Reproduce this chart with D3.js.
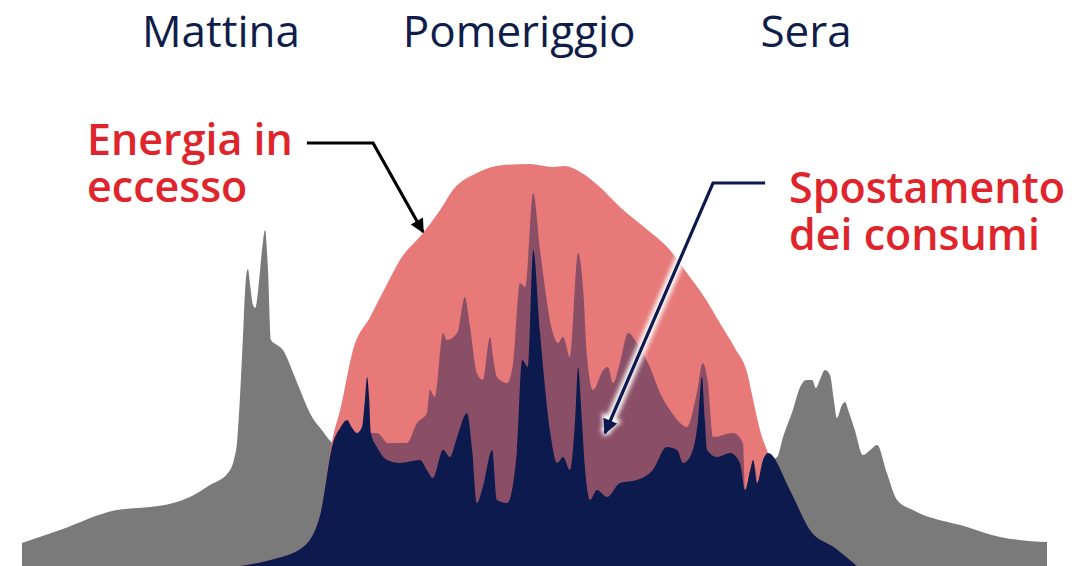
<!DOCTYPE html>
<html>
<head>
<meta charset="utf-8">
<script src="https://cdn.jsdelivr.net/npm/d3@7"></script>
<style>
  html, body { margin: 0; padding: 0; background: #fff; }
  svg { display: block; }
  text { font-family: "Open Sans", "Noto Sans", sans-serif; }
</style>
</head>
<body>
<svg id="chart" width="1081" height="566"></svg>
<script>
// hours of the day, power in kW
var consumption = [
  [0.00,0.23],[0.89,0.36],[2.22,0.56],[3.00,0.59],[3.54,0.63],[3.93,0.69],[4.40,0.81],
  [4.82,0.93],[4.96,1.06],[5.04,1.26],[5.10,1.66],[5.17,2.26],[5.24,2.86],[5.29,2.97],
  [5.34,2.81],[5.41,2.61],[5.46,2.58],[5.53,2.76],[5.62,3.16],[5.69,3.36],[5.76,2.96],
  [5.83,2.26],[5.97,2.21],[6.11,2.16],[6.35,1.93],[6.51,1.76],[6.74,1.53],[7.02,1.36],
  [7.28,1.23],[8.85,1.03],[11.97,1.50],[13.53,0.86],[15.92,1.20],[17.47,1.05],
  [17.68,1.09],[17.82,1.29],[18.05,1.56],[18.22,1.79],[18.36,1.86],[18.50,1.86],
  [18.59,1.78],[18.68,1.86],[18.80,1.96],[18.92,1.91],[19.01,1.66],[19.08,1.48],
  [19.20,1.61],[19.27,1.64],[19.36,1.54],[19.50,1.36],[19.69,1.11],[19.86,1.16],
  [20.02,1.21],[20.25,0.93],[20.49,0.66],[20.86,0.56],[22.13,0.39],[22.90,0.29],
  [24.00,0.24]
];

var production = [
  [5.10,0.00],[5.81,0.06],[6.58,0.19],[6.98,0.51],[7.28,1.29],[7.45,1.56],[7.75,2.16],
  [8.15,2.49],[8.50,2.78],[8.85,3.06],[9.39,3.33],[9.79,3.56],[10.09,3.76],[10.65,3.93],
  [11.26,4.01],[11.89,4.02],[12.43,3.99],[12.71,4.00],[13.07,3.94],[13.53,3.79],
  [14.00,3.59],[14.59,3.38],[15.17,3.16],[15.57,2.93],[15.99,2.68],[16.34,2.43],
  [16.69,2.18],[16.98,1.93],[17.12,1.66],[17.28,1.36],[17.47,1.13],[17.98,0.76],
  [18.45,0.36],[19.04,0.18],[19.55,0.00]
];

var shiftedLoad = [
  [8.15,1.33],[8.31,1.33],[8.43,1.29],[8.55,1.23],[9.01,1.23],[9.25,1.43],[9.48,1.53],
  [9.55,1.76],[9.67,1.69],[9.86,2.33],[9.95,2.26],[10.19,2.33],[10.37,2.69],[10.49,2.39],
  [10.65,1.93],[10.79,1.86],[10.96,2.29],[11.03,2.09],[11.12,1.89],[11.36,1.83],
  [11.50,2.03],[11.66,2.83],[11.78,2.79],[11.97,3.73],[12.13,3.16],[12.43,2.33],
  [12.55,2.23],[12.67,2.29],[12.83,2.09],[13.02,3.13],[13.14,2.76],[13.23,2.09],
  [13.37,1.76],[13.61,1.96],[13.72,1.99],[13.84,1.83],[14.00,2.03],[14.19,2.33],
  [14.40,2.23],[14.70,1.99],[14.94,1.73],[15.17,1.56],[15.41,1.43],[15.57,1.39],
  [15.80,1.73],[15.94,2.03],[16.06,1.83],[16.18,1.29],[16.65,1.33],[16.88,1.23],
  [16.93,0.76],[17.09,0.76],[17.12,1.03],[17.20,0.90]
];

var selfConsumption = [
  [5.10,0.00],[5.81,0.06],[6.58,0.19],[6.98,0.51],[7.28,1.23],[7.45,1.38],[7.61,1.46],
  [7.73,1.38],[7.84,1.33],[7.96,1.39],[8.03,1.66],[8.08,1.89],[8.13,1.66],[8.17,1.33],
  [8.31,1.19],[8.55,1.06],[8.85,1.03],[9.32,1.06],[9.48,0.96],[9.62,0.88],[9.86,1.16],
  [10.02,1.09],[10.19,1.29],[10.42,1.53],[10.54,1.16],[10.65,0.63],[10.79,0.79],
  [11.01,1.16],[11.12,0.66],[11.36,0.63],[11.59,1.16],[11.71,2.06],[11.85,1.99],
  [11.97,3.16],[12.13,2.33],[12.36,1.36],[12.53,1.03],[12.67,1.09],[12.83,0.96],
  [12.95,1.46],[13.02,1.99],[13.11,1.46],[13.18,0.99],[13.30,0.66],[13.46,0.76],
  [13.70,0.69],[14.00,0.83],[14.40,0.86],[14.77,0.96],[15.10,1.19],[15.34,1.16],
  [15.48,1.03],[15.64,1.09],[15.83,1.46],[15.92,1.89],[15.99,1.46],[16.04,1.16],
  [16.27,1.09],[16.58,1.13],[16.81,1.03],[16.93,0.76],[17.05,0.96],[17.12,1.06],
  [17.21,0.83],[17.35,1.06],[17.47,1.13],[17.98,0.76],[18.45,0.36],[19.04,0.18],
  [19.55,0.00]
];

var periods = [["Mattina", 4.66], ["Pomeriggio", 11.64], ["Sera", 18.36]];
var excessArrow = [[6.67,4.23],[8.22,4.23],[9.39,3.34]];
var shiftArrow = [[17.40,3.83],[16.18,3.83],[13.65,1.33]];

var svg = d3.select("#chart");
var x = d3.scaleLinear().domain([0, 24]).range([22, 1047]);
var y = d3.scaleLinear().domain([0, 4]).range([566, 166]);

var area = d3.area()
  .x(function(d) { return x(d[0]); })
  .y0(y(0))
  .y1(function(d) { return y(d[1]); })
  .curve(d3.curveMonotoneX);

var layers = [
  [consumption, "#7a7a7a"],
  [production, "#e77979"],
  [shiftedLoad, "#8a4f66"],
  [selfConsumption, "#0c1a4e"]
];
layers.forEach(function(l) {
  svg.append("path").datum(l[0]).attr("d", area).attr("fill", l[1]);
});

// arrows
var defs = svg.append("defs");
defs.append("marker").attr("id", "headBlack")
  .attr("viewBox", "0 0 10 10").attr("refX", 9).attr("refY", 5)
  .attr("markerUnits", "userSpaceOnUse")
  .attr("markerWidth", 16).attr("markerHeight", 14).attr("orient", "auto")
  .append("path").attr("d", "M0,0L10,5L0,10z").attr("fill", "#000");
defs.append("marker").attr("id", "headNavy")
  .attr("viewBox", "0 0 10 10").attr("refX", 9).attr("refY", 5)
  .attr("markerUnits", "userSpaceOnUse")
  .attr("markerWidth", 17).attr("markerHeight", 15).attr("orient", "auto")
  .append("path").attr("d", "M0,0L10,5L0,10z").attr("fill", "#0c1a4e");
defs.append("marker").attr("id", "headHalo")
  .attr("viewBox", "0 0 10 10").attr("refX", 8).attr("refY", 5)
  .attr("markerUnits", "userSpaceOnUse")
  .attr("markerWidth", 24).attr("markerHeight", 22).attr("orient", "auto")
  .append("path").attr("d", "M0,0L10,5L0,10z").attr("fill", "#fff");
defs.append("filter").attr("id", "blur")
  .append("feGaussianBlur").attr("stdDeviation", 2.2);

var line = d3.line()
  .x(function(d) { return x(d[0]); })
  .y(function(d) { return y(d[1]); });

svg.append("path").datum(excessArrow).attr("d", line)
  .attr("fill", "none").attr("stroke", "#000").attr("stroke-width", 3.2)
  .attr("marker-end", "url(#headBlack)");

svg.append("path").datum(shiftArrow.slice(1)).attr("d", line)
  .attr("fill", "none").attr("stroke", "#fff").attr("stroke-width", 10)
  .attr("stroke-opacity", 0.95).attr("filter", "url(#blur)")
  .attr("marker-end", "url(#headHalo)");
svg.append("path").datum(shiftArrow).attr("d", line)
  .attr("fill", "none").attr("stroke", "#0c1a4e").attr("stroke-width", 3.2)
  .attr("marker-end", "url(#headNavy)");

// period labels
svg.selectAll("text.period").data(periods).enter().append("text")
  .attr("class", "period")
  .attr("x", function(d) { return x(d[1]); })
  .attr("y", 47)
  .attr("text-anchor", "middle")
  .attr("font-size", 44)
  .attr("fill", "#0f1d4a")
  .text(function(d) { return d[0]; });

// red callouts, one text per line to keep the tight leading
function label(lines, lx, ly) {
  lines.forEach(function(s, i) {
    svg.append("text")
      .attr("x", lx).attr("y", ly + i * 47)
      .attr("font-size", 43).attr("font-weight", 600)
      .attr("fill", "#e0242c")
      .text(s);
  });
}
label(["Energia in", "eccesso"], 87, 155);
label(["Spostamento", "dei consumi"], 789, 203);
</script>
</body>
</html>
